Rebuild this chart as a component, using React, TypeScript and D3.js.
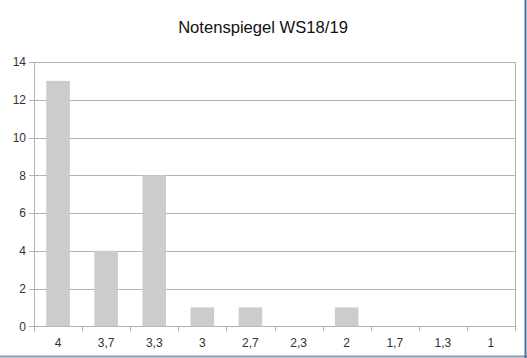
import React from "react";
import * as d3 from "d3";

const categories = ["4", "3,7", "3,3", "3", "2,7", "2,3", "2", "1,7", "1,3", "1"];
const counts = [13, 4, 8, 1, 1, 0, 1, 0, 0, 0];
const yTicks = [0, 2, 4, 6, 8, 10, 12, 14];
const title = "Notenspiegel WS18/19";

export default function App() {
  const W = 527, H = 358;
  const left = 34, right = 515, top = 62, bottom = 326.3;
  const x = d3.scaleBand<string>().domain(categories).range([left, right]).paddingInner(0).paddingOuter(0);
  const y = d3.scaleLinear().domain([0, 14]).range([bottom, top]);
  const bw = x.bandwidth() * 0.49;
  const font = "'Liberation Sans', Arial, sans-serif";
  const grid = "#b3b3b3";
  return (
    <svg width={W} height={H} style={{ position: "fixed", left: 0, top: 0, background: "#fff" }} fontFamily={font}>
      <rect x={0} y={0} width={W} height={H} fill="#fff" />
      <text x={263} y={33} textAnchor="middle" fontSize={16.6} fill="#111">{title}</text>
      {yTicks.map((t) => (
        <g key={t}>
          <line x1={left - 5} x2={right} y1={Math.round(y(t)) + 0.5} y2={Math.round(y(t)) + 0.5} stroke={grid} />
          <text x={26} y={y(t) + 4.3} textAnchor="end" fontSize={12} fill="#333">{t}</text>
        </g>
      ))}
      {counts.map((v, i) => (
        <rect key={i} x={(x(categories[i]) as number) + (x.bandwidth() - bw) / 2} y={y(v)} width={bw} height={bottom - y(v)} fill="#cccccc" />
      ))}
      <line x1={left + 0.5} x2={left + 0.5} y1={top} y2={bottom + 5} stroke={grid} />
      <line x1={right + 0.5} x2={right + 0.5} y1={top} y2={bottom + 5} stroke={grid} />
      {categories.map((c, i) => (
        <g key={c}>
          <line x1={Math.round(x(c) as number) + 0.5} x2={Math.round(x(c) as number) + 0.5} y1={bottom} y2={bottom + 5} stroke={grid} />
          <text x={(x(c) as number) + x.bandwidth() / 2} y={347} textAnchor="middle" fontSize={12} fill="#333">{c}</text>
        </g>
      ))}
      <line x1={0} x2={W} y1={356.5} y2={356.5} stroke="#8a9bb0" strokeWidth={2} />
      <line x1={525.5} x2={525.5} y1={0} y2={H} stroke="#4a6fa5" strokeWidth={2} />
    </svg>
  );
}
